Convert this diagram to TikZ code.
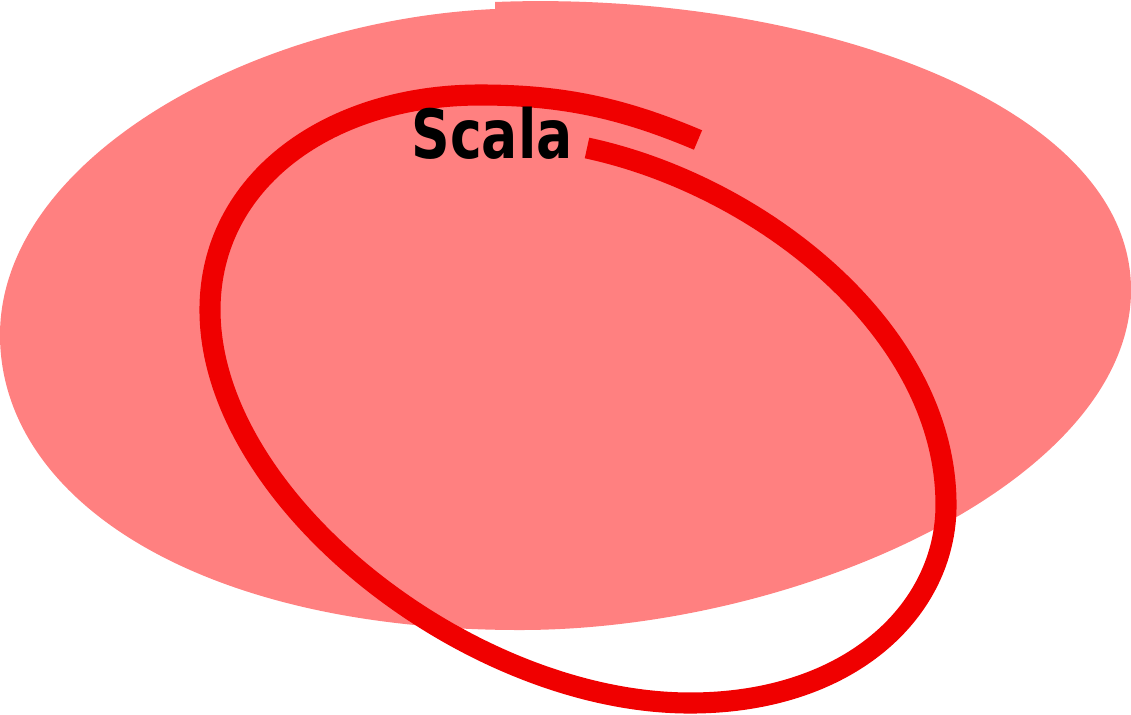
\documentclass[tikz,border=0pt]{standalone}
\usepackage{fontspec}
\newfontfamily\labelfont{DejaVu Sans}
\definecolor{blobrot}{HTML}{FF8080}
\definecolor{schleife}{HTML}{F00000}
\usetikzlibrary{positioning}

\begin{document}
\begin{tikzpicture}[x=0.02cm, y=-0.02cm,
        blob/.style={fill=blobrot, draw=none},
        loopline/.style={draw=schleife, line width=12pt},
        lang/.style={font=\labelfont\bfseries\fontsize{38.6}{40}\selectfont,
                     inner sep=0pt, anchor=base, xscale=0.79, transform shape}
      ]
      \useasboundingbox (0,0) rectangle (1131,714);
      % filled area
      \path[blob] (495,2) .. controls (800,-10) and (1131,100) .. (1131,290)
        .. controls (1131,480) and (800,630) .. (520,630)
        .. controls (200,630) and (0,500) .. (0,335)
        .. controls (0,160) and (250,20) .. (495,9) -- cycle;
      % thick loop
      \draw[loopline] (698,140) .. controls (620,107) and (560,95) .. (480,95)
        .. controls (330,95) and (210,180) .. (210,310)
        .. controls (210,500) and (470,703) .. (690,703)
        .. controls (850,703) and (946,610) .. (946,505)
        .. controls (946,330) and (760,185) .. (587,148);
      \node[lang] (scala) at (492,158) {Scala};
    \end{tikzpicture}
\end{document}
